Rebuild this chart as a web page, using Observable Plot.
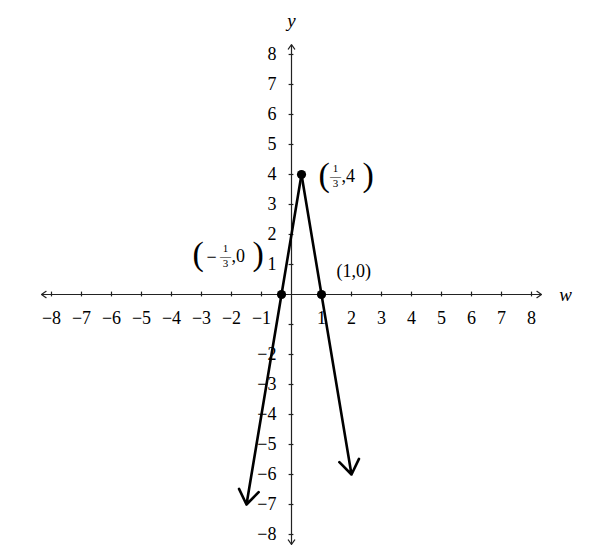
<!DOCTYPE html>
<html>
<head>
<meta charset="utf-8">
<script src="https://cdn.jsdelivr.net/npm/d3@7"></script>
<script src="https://cdn.jsdelivr.net/npm/@observablehq/plot@0.6"></script>
<style>
  html, body { margin: 0; padding: 0; background: #fff; }
  #chart svg { display: block; font-family: "Liberation Serif", "Times New Roman", serif !important; }
  #chart svg text { font-family: "Liberation Serif", "Times New Roman", serif !important; }
</style>
</head>
<body>
<div id="chart"></div>
<script>
// ---- data ----
const axisMax = 8.333;
const xTicks = [-8, -7, -6, -5, -4, -3, -2, -1, 1, 2, 3, 4, 5, 6, 7, 8];
const yTicks = [-8, -7, -6, -5, -4, -3, -2, -1, 1, 2, 3, 4, 5, 6, 7, 8];
const yTickLabels = [-8, -7, -6, -5, -4, -3, -2, 1, 2, 3, 4, 5, 6, 7, 8];
const vertex = {w: 1 / 3, y: 4};
const rayEnds = [{w: -1.5, y: -7}, {w: 2, y: -6}];
const keyPoints = [{w: -1 / 3, y: 0}, {w: 1 / 3, y: 4}, {w: 1, y: 0}];

const fmt = (v) => (v < 0 ? "\u2212" + Math.abs(v) : String(v));

const axisArrows = [
  {x1: 0, y1: 0, x2: axisMax, y2: 0},
  {x1: 0, y1: 0, x2: -axisMax, y2: 0},
  {x1: 0, y1: 0, x2: 0, y2: axisMax},
  {x1: 0, y1: 0, x2: 0, y2: -axisMax}
];
const rays = rayEnds.map((e) => ({x1: vertex.w, y1: vertex.y, x2: e.w, y2: e.y}));

const pTop = [keyPoints[1]];
const pLeft = [keyPoints[0]];
const pRight = [keyPoints[2]];
const third = "1\n\u2014\n3";

const chart = Plot.plot({
  width: 600,
  height: 551,
  marginLeft: 41,
  marginRight: 59,
  marginTop: 44,
  marginBottom: 7,
  style: {background: "#fff"},
  x: {domain: [-axisMax, axisMax], axis: null},
  y: {domain: [-axisMax, axisMax], axis: null},
  marks: [
    // axes
    Plot.arrow(axisArrows, {x1: "x1", y1: "y1", x2: "x2", y2: "y2", stroke: "#222", strokeWidth: 1.2, headLength: 7, headAngle: 70}),
    // ticks
    Plot.ruleX(xTicks, {x: (d) => d, y1: -0.08, y2: 0.08, stroke: "#222", strokeWidth: 1.2}),
    Plot.ruleY(yTicks, {y: (d) => d, x1: -0.08, x2: 0.08, stroke: "#222", strokeWidth: 1.2}),
    // tick labels
    Plot.text(xTicks, {x: (d) => d, y: 0, text: fmt, dy: 24, fontSize: 18, fill: "#000"}),
    Plot.text(yTickLabels, {x: 0, y: (d) => d, text: fmt, dx: -15, textAnchor: "end", fontSize: 18, fill: "#000"}),
    // axis names
    Plot.text(["w"], {x: axisMax, y: 0, text: (d) => d, dx: 24, fontSize: 19, fontStyle: "italic", fill: "#000"}),
    Plot.text(["y"], {x: 0, y: axisMax, text: (d) => d, dy: -24, fontSize: 19, fontStyle: "italic", fill: "#000"}),
    // rays
    Plot.arrow(rays, {x1: "x1", y1: "y1", x2: "x2", y2: "y2", stroke: "#000", strokeWidth: 2.6, headLength: 10, headAngle: 70, strokeLinecap: "round", strokeLinejoin: "round"}),
    // points
    Plot.dot(keyPoints, {x: "w", y: "y", r: 4.6, fill: "#000", stroke: "none"}),
    // annotation (1/3, 4)
    Plot.text(pTop, {x: "w", y: "y", text: () => "(", dx: 17, dy: 1, textAnchor: "start", fontSize: 34, fill: "#000"}),
    Plot.text(pTop, {x: "w", y: "y", text: () => third, dx: 34, dy: 3, fontSize: 11, lineHeight: 0.68, fill: "#000"}),
    Plot.text(pTop, {x: "w", y: "y", text: () => ",4", dx: 40, dy: 2, textAnchor: "start", fontSize: 18, fill: "#000"}),
    Plot.text(pTop, {x: "w", y: "y", text: () => ")", dx: 61, dy: 1, textAnchor: "start", fontSize: 34, fill: "#000"}),
    // annotation (-1/3, 0)
    Plot.text(pLeft, {x: "w", y: "y", text: () => "(", dx: -89, dy: -40, textAnchor: "start", fontSize: 34, fill: "#000"}),
    Plot.text(pLeft, {x: "w", y: "y", text: () => "\u2212", dx: -70, dy: -37, fontSize: 18, fill: "#000"}),
    Plot.text(pLeft, {x: "w", y: "y", text: () => third, dx: -56, dy: -37, fontSize: 11, lineHeight: 0.68, fill: "#000"}),
    Plot.text(pLeft, {x: "w", y: "y", text: () => ",0", dx: -50, dy: -38, textAnchor: "start", fontSize: 18, fill: "#000"}),
    Plot.text(pLeft, {x: "w", y: "y", text: () => ")", dx: -29, dy: -40, textAnchor: "start", fontSize: 34, fill: "#000"}),
    // annotation (1, 0)
    Plot.text(pRight, {x: "w", y: "y", text: () => "(1,0)", dx: 15, dy: -23, textAnchor: "start", fontSize: 18, fill: "#000"})
  ]
});
document.getElementById("chart").appendChild(chart);
</script>
</body>
</html>
